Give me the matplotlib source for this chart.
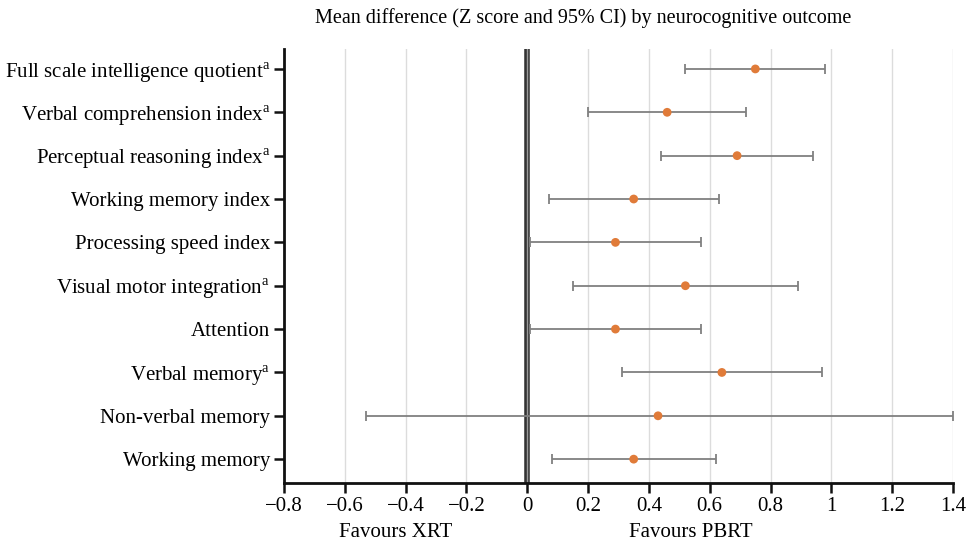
import numpy as np
import matplotlib.pyplot as plt

plt.rcParams['font.family'] = 'Liberation Serif'
plt.rcParams['mathtext.fontset'] = 'custom'
plt.rcParams['mathtext.rm'] = 'Liberation Serif'

outcomes = ["Full scale intelligence quotient$^{\\mathrm{a}}$",
            "Verbal comprehension index$^{\\mathrm{a}}$",
            "Perceptual reasoning index$^{\\mathrm{a}}$",
            "Working memory index",
            "Processing speed index",
            "Visual motor integration$^{\\mathrm{a}}$",
            "Attention",
            "Verbal memory$^{\\mathrm{a}}$",
            "Non-verbal memory",
            "Working memory"]
mean_diff = [0.75, 0.46, 0.69, 0.35, 0.29, 0.52, 0.29, 0.64, 0.43, 0.35]
ci_low = [0.52, 0.20, 0.44, 0.07, 0.01, 0.15, 0.01, 0.31, -0.53, 0.08]
ci_high = [0.98, 0.72, 0.94, 0.63, 0.57, 0.89, 0.57, 0.97, 1.40, 0.62]
xticks = [-0.8, -0.6, -0.4, -0.2, 0, 0.2, 0.4, 0.6, 0.8, 1, 1.2, 1.4]

fig = plt.figure(figsize=(9.77, 5.44), dpi=100)
ax = fig.add_axes([284/977, 1-483/544, (953-284)/977, (483-49)/544])

y = np.arange(len(outcomes))
m = np.array(mean_diff)
err = [m - np.array(ci_low), np.array(ci_high) - m]

for xt in xticks:
    ax.axvline(xt, color='#dcdcdc', lw=1, zorder=0)
ax.axvline(0, color='#333333', lw=4, zorder=1)
ax.axvline(0, color='#9a9a9a', lw=1, zorder=1)

ax.errorbar(m, y, xerr=err, fmt='none', ecolor='#808080', elinewidth=1.3,
            capsize=3.5, capthick=1.3, zorder=2)
ax.scatter(m, y, s=40, color='#E07B39', zorder=3, edgecolors='none')

ax.set_xlim(-0.8, 1.4)
ax.set_ylim(len(outcomes) - 0.45, -0.46)
ax.set_yticks(y)
ax.set_yticklabels(outcomes, fontsize=15)
ax.set_xticks(xticks)
ax.set_xticklabels(['\u22120.8', '\u22120.6', '\u22120.4', '\u22120.2', '0', '0.2',
                    '0.4', '0.6', '0.8', '1', '1.2', '1.4'], fontsize=15)
ax.tick_params(axis='both', length=7, width=1.8, color='#111111', pad=3)

for s in ['top', 'right']:
    ax.spines[s].set_visible(False)
for s in ['left', 'bottom']:
    ax.spines[s].set_linewidth(2)
    ax.spines[s].set_color('#111111')

ax.text(-0.434, -0.115, 'Favours XRT', transform=ax.get_xaxis_transform(),
        ha='center', va='center', fontsize=15)
ax.text(0.539, -0.115, 'Favours PBRT', transform=ax.get_xaxis_transform(),
        ha='center', va='center', fontsize=15)

fig.text(583/977, 1-18/544, 'Mean difference (Z score and 95% CI) by neurocognitive outcome',
         ha='center', va='center', fontsize=14.5)

fig.savefig('out.png', dpi=100)
